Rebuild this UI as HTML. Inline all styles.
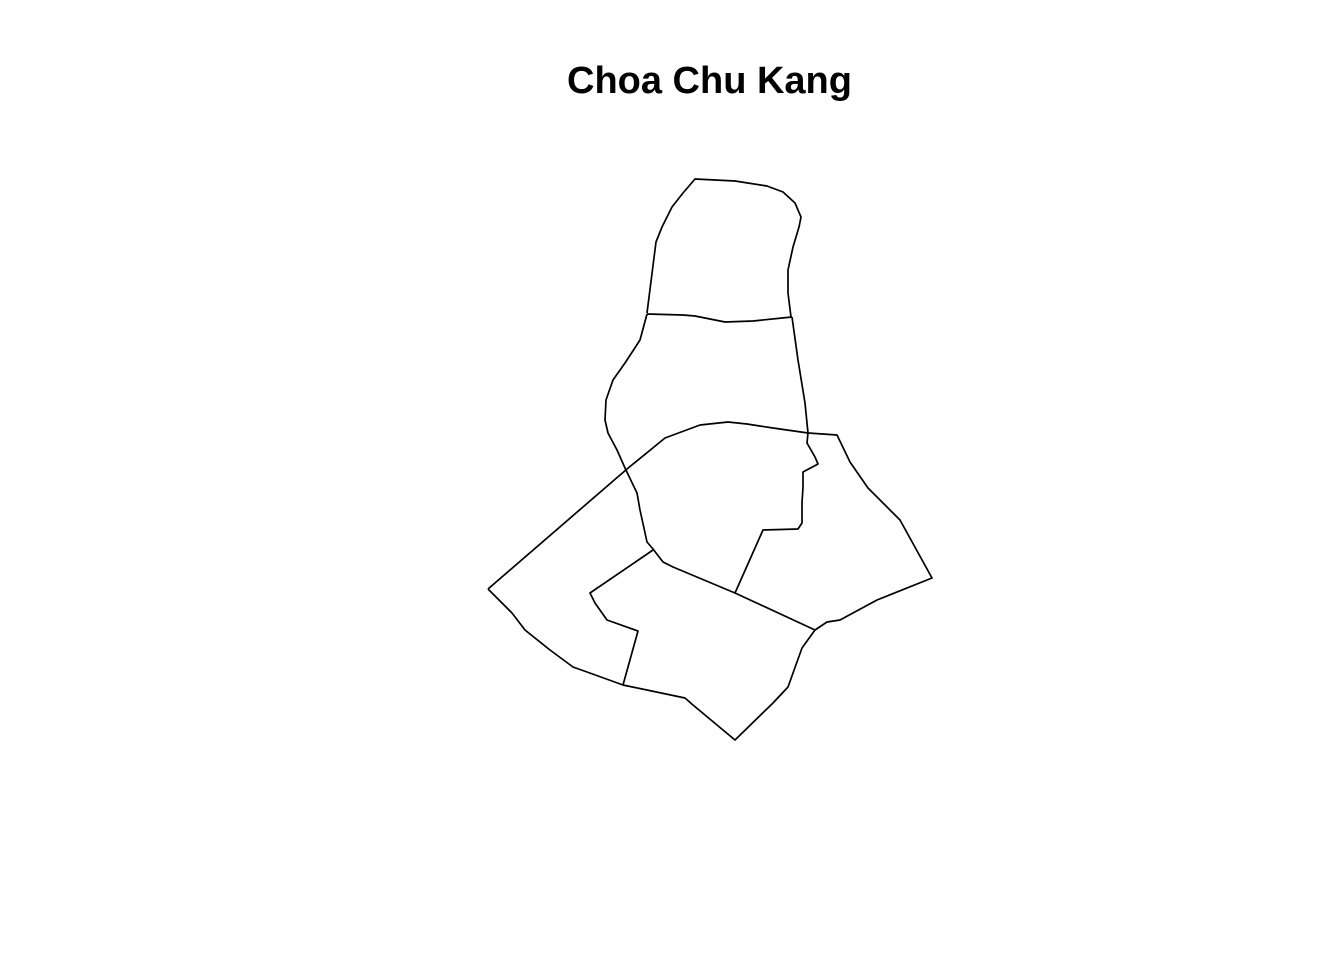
<!DOCTYPE html>
<html><head><meta charset="utf-8"><style>
html,body{margin:0;padding:0;background:#fff;}
svg{display:block;}
</style></head><body>
<svg width="1344" height="960" viewBox="0 0 1344 960">
<text x="709.5" y="93" text-anchor="middle" font-family="Liberation Sans, sans-serif" font-weight="bold" font-size="38">Choa Chu Kang</text>
<g id="boundaries" fill="none" stroke="#000" stroke-width="1.7" stroke-linejoin="round"></g>
</svg>
<script>
// Boundary lines (map geometry, projected coordinates)
const northTop = [[647,313],[656,242],[662,227],[672,207],[683,193],[695,179],[735,181],[767,186],[783,192],[795,203],[801,217],[799,227],[793,247],[788,270],[788,293],[791,317]];
const divider1 = [[647,314],[683,315],[695,316],[725,322],[753,321],[782,318],[792,317]];
const eastEdge = [[792,317],[798,360],[805,403],[808,433]];
const westEdge = [[647,314],[640,340],[625,363],[613,380],[606,400],[605,420],[608,433],[617,450],[625,468],[637,493],[640,510],[647,542],[653,549],[663,562],[673,567],[735,593],[815,630]];
const divider2 = [[488,589],[627,469],[665,438],[700,425],[728,422],[747,424],[773,428],[808,433]];
const southEdge = [[488,589],[512,613],[525,630],[550,650],[573,667],[587,672],[623,685],[685,698],[693,705],[735,740],[773,703],[788,687],[802,648],[815,630]];
const eastRegion = [[808,433],[837,435],[850,462],[868,488],[900,520],[932,578],[877,600],[840,620],[827,622],[815,630]];
const innerNotch = [[808,433],[807,443],[815,457],[818,464],[803,472],[803,487],[802,503],[802,523],[798,529],[763,530],[735,593]];
const innerSW = [[653,550],[590,593],[595,603],[607,620],[638,631],[623,685]];
const lines = [northTop, divider1, eastEdge, westEdge, divider2, southEdge, eastRegion, innerNotch, innerSW];
const lineNames = ['north-boundary','divider-north','east-edge','west-edge','divider-middle','south-boundary','east-region-boundary','inner-notch-boundary','inner-southwest-boundary'];
const g = document.getElementById('boundaries');
lines.forEach((pts, i) => {
  const p = document.createElementNS('http://www.w3.org/2000/svg', 'polyline');
  p.setAttribute('points', pts.map(q => q.join(',')).join(' '));
  
  
  g.appendChild(p);
});
</script>
</body></html>
